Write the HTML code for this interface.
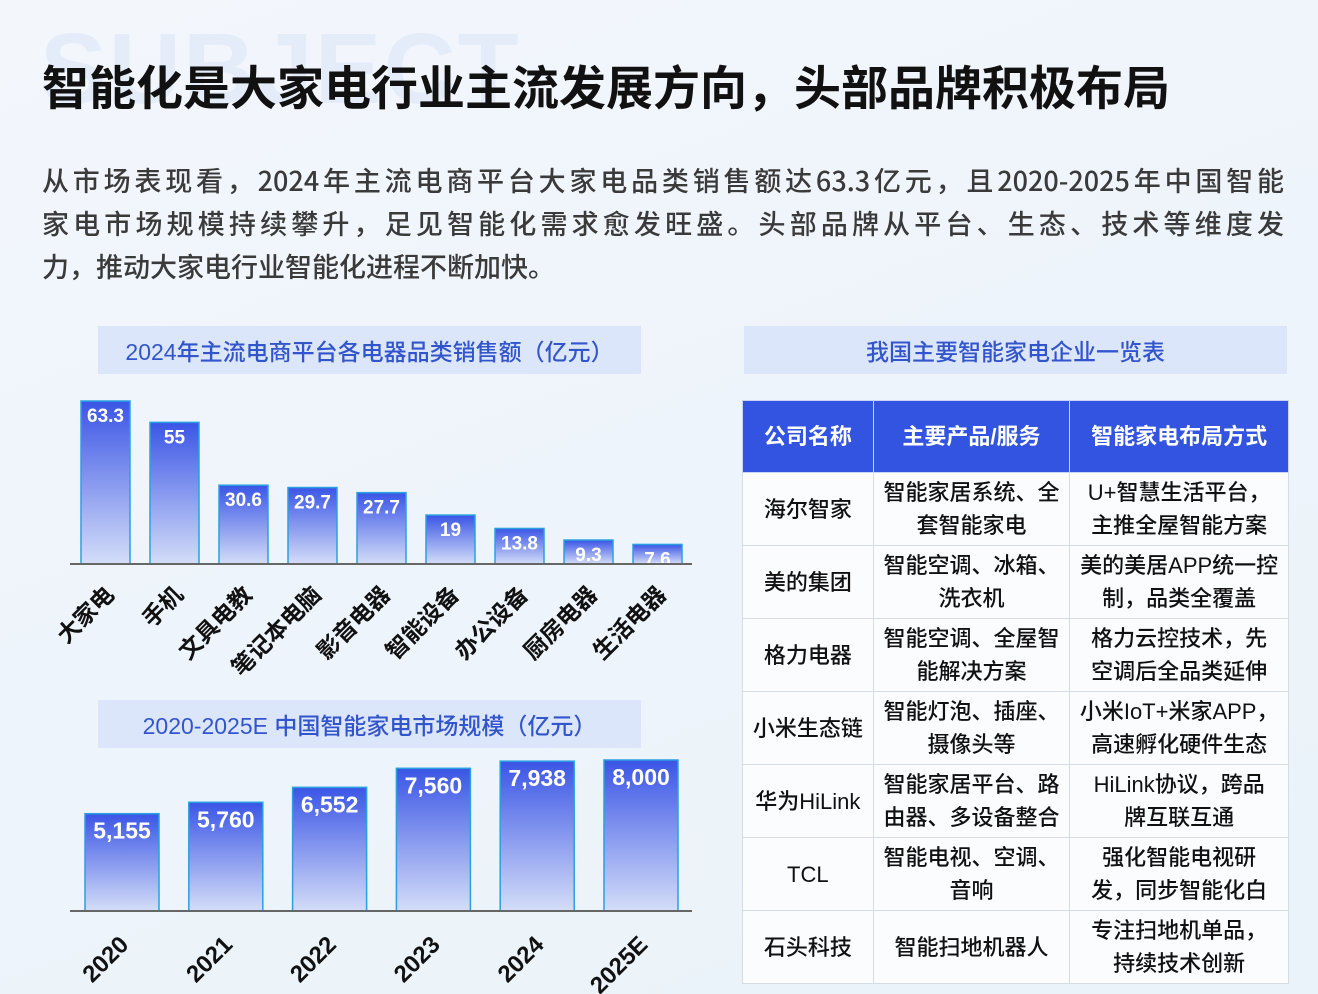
<!DOCTYPE html>
<html><head><meta charset="utf-8">
<style>
*{margin:0;padding:0;box-sizing:border-box}
body{width:1318px;height:994px;overflow:hidden;background:linear-gradient(160deg,#f3f7fc 0%,#eef4fb 50%,#eaf3fa 100%);font-family:"Liberation Sans","Noto Sans CJK SC",sans-serif;position:relative}
.wm{position:absolute;left:40px;top:12px;font-size:100px;font-weight:bold;color:#e3ecf8;letter-spacing:2px}
h1{position:absolute;left:42px;top:50px;font-size:47px;font-weight:bold;color:#111;white-space:nowrap}
.para{position:absolute;left:42px;top:158px;width:1242px;font-size:27px;line-height:43px;color:#3a3a3a;font-weight:500;font-family:"Noto Sans CJK SC","Liberation Sans",sans-serif}
.para div{text-align:justify;text-align-last:justify;white-space:nowrap}
.para div.last{text-align-last:left}
.tbox{position:absolute;height:48px;background:#dce6fa;color:#3355cc;font-size:23px;font-weight:500;display:flex;align-items:center;justify-content:center}
table{position:absolute;left:742px;top:400px;width:547px;border-collapse:collapse;font-size:22px;color:#111;font-weight:500}
td,th{border:1px solid #d6dce6;text-align:center;line-height:33px;padding:0;white-space:nowrap}
th{background:#3354e0;color:#fff;height:72px;font-weight:bold;border-color:#c8d3f5}
td{background:#fbfcfe;height:73px}
svg{position:absolute;left:0;top:0}
</style></head><body>
<div class="wm">SUBJECT</div>
<h1>智能化是大家电行业主流发展方向，头部品牌积极布局</h1>
<div class="para"><div>从市场表现看，2024年主流电商平台大家电品类销售额达63.3亿元，且2020-2025年中国智能</div><div>家电市场规模持续攀升，足见智能化需求愈发旺盛。头部品牌从平台、生态、技术等维度发</div><div class="last">力，推动大家电行业智能化进程不断加快。</div></div>
<div class="tbox" style="left:98px;top:326px;width:543px">2024年主流电商平台各电器品类销售额（亿元）</div>
<div class="tbox" style="left:744px;top:326px;width:543px">我国主要智能家电企业一览表</div>
<div class="tbox" style="left:98px;top:700px;width:543px">2020-2025E 中国智能家电市场规模（亿元）</div>

<svg width="1318" height="994">
<defs><linearGradient id="g" x1="0" y1="0" x2="0" y2="1"><stop offset="0" stop-color="#3a55e6"/><stop offset="1" stop-color="#d4ddf8"/></linearGradient></defs>
<g id="c1"></g><g id="c2"></g>
</svg>

<table>
<colgroup><col style="width:131px"><col style="width:197px"><col style="width:219px"></colgroup>
<tr><th>公司名称</th><th>主要产品/服务</th><th>智能家电布局方式</th></tr>
<tr><td>海尔智家</td><td>智能家居系统、全<br>套智能家电</td><td>U+智慧生活平台，<br>主推全屋智能方案</td></tr>
<tr><td>美的集团</td><td>智能空调、冰箱、<br>洗衣机</td><td>美的美居APP统一控<br>制，品类全覆盖</td></tr>
<tr><td>格力电器</td><td>智能空调、全屋智<br>能解决方案</td><td>格力云控技术，先<br>空调后全品类延伸</td></tr>
<tr><td>小米生态链</td><td>智能灯泡、插座、<br>摄像头等</td><td>小米IoT+米家APP，<br>高速孵化硬件生态</td></tr>
<tr><td>华为HiLink</td><td>智能家居平台、路<br>由器、多设备整合</td><td>HiLink协议，跨品<br>牌互联互通</td></tr>
<tr><td>TCL</td><td>智能电视、空调、<br>音响</td><td>强化智能电视研<br>发，同步智能化白</td></tr>
<tr><td>石头科技</td><td>智能扫地机器人</td><td>专注扫地机单品，<br>持续技术创新</td></tr>
</table>

<script>
const cats1=["大家电","手机","文具电教","笔记本电脑","影音电器","智能设备","办公设备","厨房电器","生活电器"];
const vals1=[63.3,55,30.6,29.7,27.7,19,13.8,9.3,7.6];
const labels1=["63.3","55","30.6","29.7","27.7","19","13.8","9.3","7.6"];
const cats2=["2020","2021","2022","2023","2024","2025E"];
const vals2=[5155,5760,6552,7560,7938,8000];
const labels2=["5,155","5,760","6,552","7,560","7,938","8,000"];
const NS="http://www.w3.org/2000/svg";
function mk(t,a,p){const e=document.createElementNS(NS,t);for(const k in a)e.setAttribute(k,a[k]);p.appendChild(e);return e;}
function draw(g,cats,vals,labels,o){
  const x=i=>o.x0+i*o.pitch, y=v=>o.base-v*o.k;
  cats.forEach((c,i)=>{
    const r=mk('rect',{x:x(i),y:y(vals[i]),width:o.w,height:o.base-y(vals[i]),fill:'url(#g)',stroke:'#2aa0e0','stroke-width':1.5},g);
    
    
    const t=mk('text',{x:x(i)+o.w/2,y:y(vals[i])+o.fs+2,'text-anchor':'middle',fill:'#fff','font-size':o.fs,'font-weight':'bold'},g);t.textContent=labels[i];
    
    
    const cx=x(i)+o.w/2+o.lx, cy=o.ly;
    const l=mk('text',{x:cx,y:cy,'text-anchor':'end',fill:'#111','font-size':o.lfs,'font-weight':'bold',transform:`rotate(-45 ${cx} ${cy})`},g);l.textContent=c;
    
    
  });
  const a=mk('line',{x1:o.ax0,x2:o.ax1,y1:o.base,y2:o.base,stroke:'#666','stroke-width':2},g);
  
  
}
draw(document.getElementById('c1'),cats1,vals1,labels1,{x0:81,pitch:69,w:49,base:564,k:163/63.3,fs:19,lx:10,ly:596,lfs:23,ax0:70,ax1:692});
draw(document.getElementById('c2'),cats2,vals2,labels2,{x0:85,pitch:103.8,w:74,base:911,k:151/8000,fs:23,lx:8,ly:946,lfs:24,ax0:70,ax1:692});
</script>
</body></html>
